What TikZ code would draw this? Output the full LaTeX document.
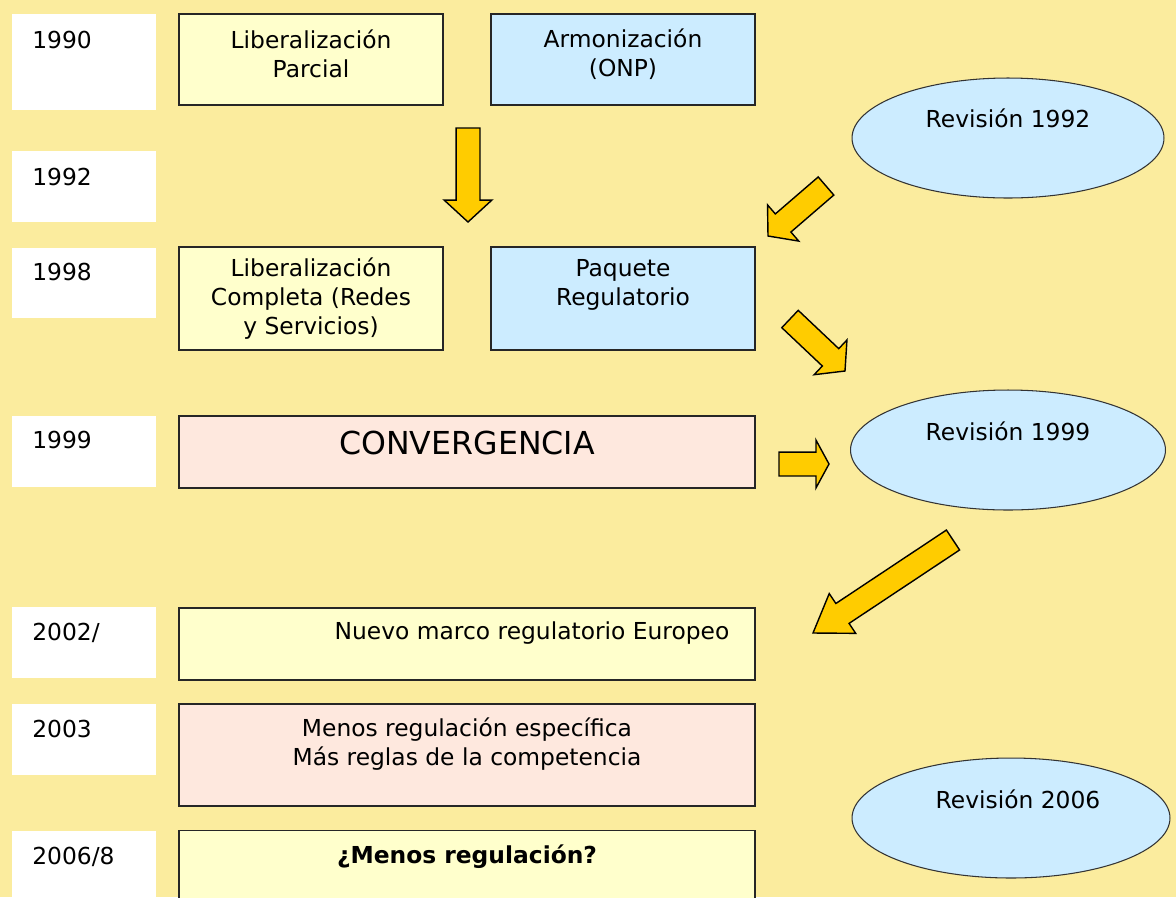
\documentclass[tikz,border=0pt]{standalone}
\usepackage{fontspec}
\setmainfont{DejaVu Sans}
\usetikzlibrary{shapes.geometric, calc}
\definecolor{paper}{RGB}{251,236,158}
\definecolor{cream}{RGB}{255,255,204}
\definecolor{sky}{RGB}{204,236,255}
\definecolor{blush}{RGB}{254,232,222}
\definecolor{gold}{RGB}{255,204,0}

% 太い矢印 (始点, 終点)
\newcommand{\blockarrow}[3][12.5]{%
  \draw[barrow] let \p1=(#2), \p2=(#3),
    \n1={atan2(\y2-\y1,\x2-\x1)}, \n2={veclen(\x2-\x1,\y2-\y1)-#1pt} in
    ($(\p1)+(\n1+90:6.8pt)$) -- ($(\p1)+(\n1:\n2)+(\n1+90:6.8pt)$)
    -- ($(\p1)+(\n1:\n2)+(\n1+90:13.6pt)$) -- (\p2)
    -- ($(\p1)+(\n1:\n2)+(\n1-90:13.6pt)$) -- ($(\p1)+(\n1:\n2)+(\n1-90:6.8pt)$)
    -- ($(\p1)+(\n1-90:6.8pt)$) -- cycle;}

\begin{document}
\begin{tikzpicture}[x=0.02cm, y=-0.02cm,
  txt/.style={align=center, inner sep=0pt, font=\fontsize{13.3}{16.5}\selectfont},
  yr/.style={anchor=west, inner sep=0pt, font=\fontsize{13.3}{16}\selectfont},
  yearbox/.style={fill=white, minimum width=2.88cm, inner sep=0pt},
  box/.style={draw=black!85, line width=1pt, inner sep=0pt},
  halfbox/.style={box, minimum width=5.28cm},
  widebox/.style={box, minimum width=11.52cm},
  revision/.style={ellipse, draw=black!80, line width=0.6pt, fill=sky, minimum width=6.24cm, minimum height=2.4cm, inner sep=0pt},
  barrow/.style={draw=black, line width=0.8pt, fill=gold, line join=miter}]
\clip (0,0) rectangle (1176,897);
\fill[paper] (0,0) rectangle (1176,897);

% 年
\node[yearbox, minimum height=1.92cm] (y90) at (84,62) {};
\node[yearbox, minimum height=1.42cm] (y92) at (84,186.5) {};
\node[yearbox, minimum height=1.40cm] (y98) at (84,283) {};
\node[yearbox, minimum height=1.42cm] (y99) at (84,451.5) {};
\node[yearbox, minimum height=1.42cm] (y02) at (84,642.5) {};
\node[yearbox, minimum height=1.42cm] (y03) at (84,739.5) {};
\node[yearbox, minimum height=1.60cm] (y06) at (84,871) {};
\node[yr] (t90) at (32,40) {1990};
\node[yr] (t92) at (32,177) {1992};
\node[yr] (t98) at (32,272) {1998};
\node[yr] (t99) at (32,440) {1999};
\node[yr] (t02) at (32,633) {2002/};
\node[yr] (t03) at (32,729) {2003};
\node[yr] (t06) at (32,857) {2006/8};

% 枠
\node[halfbox, fill=cream, minimum height=1.82cm] (libp) at (311,59.5) {};
\node[halfbox, fill=sky, minimum height=1.82cm] (armo) at (623,59.5) {};
\node[halfbox, fill=cream, minimum height=2.06cm] (libc) at (311,298.5) {};
\node[halfbox, fill=sky, minimum height=2.06cm] (paq) at (623,298.5) {};
\node[widebox, fill=blush, minimum height=1.44cm] (conv) at (467,452) {};
\node[widebox, fill=cream, minimum height=1.44cm] (nuevo) at (467,644) {};
\node[widebox, fill=blush, minimum height=2.04cm] (menos) at (467,755) {};
\node[widebox, fill=cream, minimum height=1.58cm] (menosq) at (467,870) {};

\node[txt] (libp-t) at (311,54) {Liberalización\\Parcial};
\node[txt] (armo-t) at (623,54) {Armonización\\(ONP)};
\node[txt] (libc-t) at (311,299) {Liberalización\\Completa (Redes\\y Servicios)};
\node[txt] (paq-t) at (623,285) {Paquete\\Regulatorio};
\node[txt, font=\fontsize{18}{20}\selectfont] (conv-t) at (467,443) {CONVERGENCIA};
\node[txt] (nuevo-t) at (532,633) {Nuevo marco regulatorio Europeo};
\node[txt] (menos-t) at (467,744) {Menos regulación específica\\Más reglas de la competencia};
\node[txt, font=\fontsize{13.3}{16}\selectfont\bfseries] (menosq-t) at (467,857) {¿Menos regulación?};

% 見直し
\node[revision] (r92) at (1008,138) {};
\node[revision, minimum width=6.3cm] (r99) at (1008,450) {};
\node[revision, minimum width=6.36cm] (r06) at (1011,818) {};
\node[txt] (r92-t) at (1008,118) {Revisión 1992};
\node[txt] (r99-t) at (1008,431) {Revisión 1999};
\node[txt] (r06-t) at (1018,799) {Revisión 2006};

% 矢印
\coordinate (a1s) at (468,128); \coordinate (a1e) at (468,222);
\coordinate (a2s) at (826,186); \coordinate (a2e) at (768,236);
\coordinate (a3s) at (790,319); \coordinate (a3e) at (845,371);
\coordinate (a4s) at (779,464); \coordinate (a4e) at (829,464);
\coordinate (a5s) at (953,540); \coordinate (a5e) at (813,633);
\blockarrow{a1s}{a1e}
\blockarrow[11.3]{a2s}{a2e}
\blockarrow[11.3]{a3s}{a3e}
\blockarrow[7.4]{a4s}{a4e}
\blockarrow[20]{a5s}{a5e}
\end{tikzpicture}
\end{document}
